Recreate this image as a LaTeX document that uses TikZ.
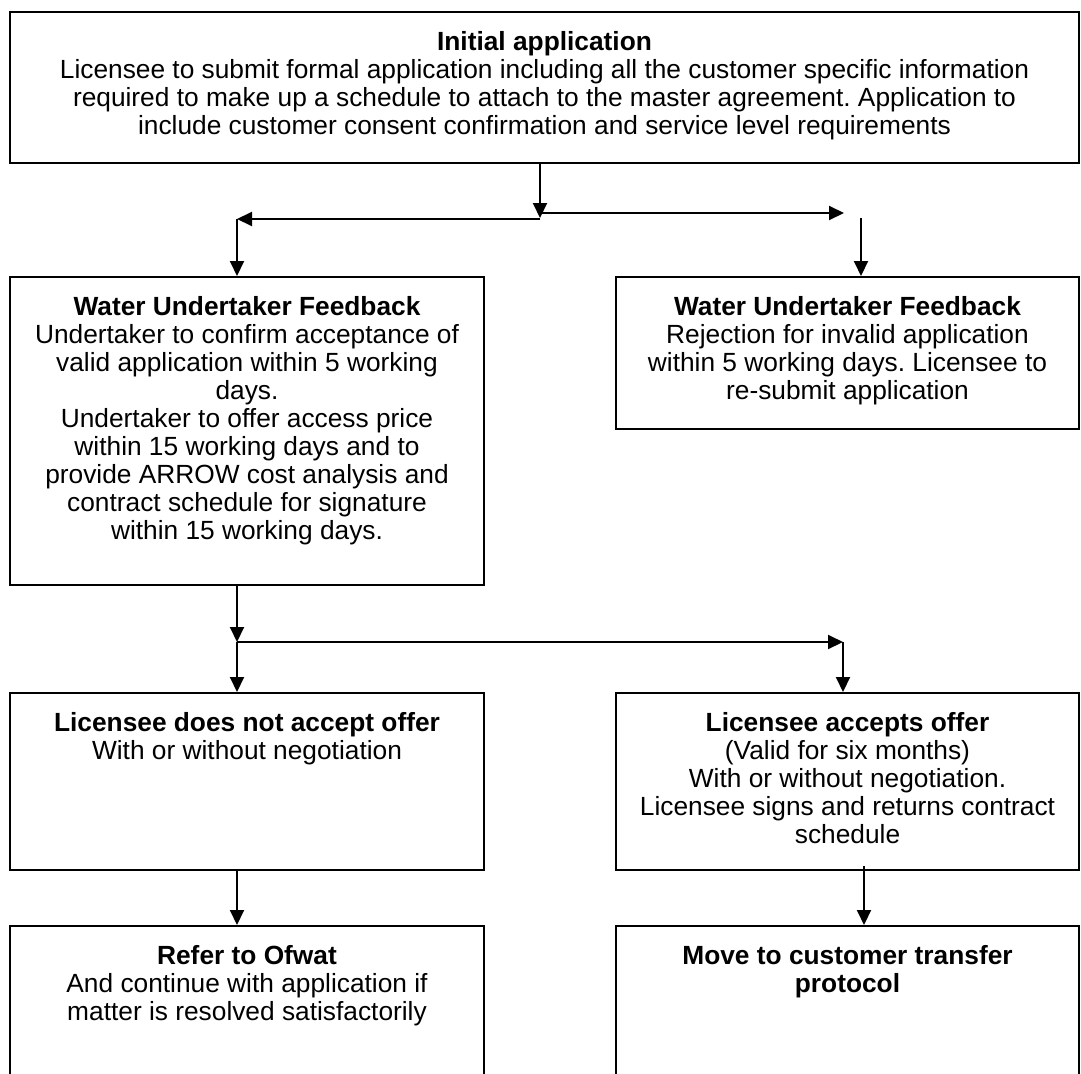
\documentclass[tikz,border=0pt]{standalone}
\usepackage{fontspec}
\setmainfont{Liberation Sans}
\usetikzlibrary{arrows.meta}

\tikzset{
  stage/.style={draw,line width=2pt,inner sep=0pt,anchor=north west,font=\fontsize{26.3}{28}\selectfont},
  flow/.style={line width=2pt,-{Triangle[length=15pt,width=14pt]}}
}
% box text: width, height, lines
\newcommand{\stagetext}[3]{\parbox[c][#2][t]{#1}{\centering\frenchspacing\vspace*{19pt}#3}}

\begin{document}
\begin{tikzpicture}[x=1pt,y=-1pt]
  \clip (0,0) rectangle (1081,1073);
  % boxes
  \node[stage] (apply) at (9,11) {\stagetext{1069pt}{151pt}{\textbf{Initial application}\\
    Licensee to submit formal application including all the customer specific information\\
    required to make up a schedule to attach to the master agreement. Application to\\
    include customer consent confirmation and service level requirements}};
  \node[stage] (fbok) at (9,276) {\stagetext{474pt}{308pt}{\textbf{Water Undertaker Feedback}\\
    Undertaker to confirm acceptance of\\ valid application within 5 working\\ days.\\
    Undertaker to offer access price\\ within 15 working days and to\\
    provide ARROW cost analysis and\\ contract schedule for signature\\ within 15 working days.}};
  \node[stage] (fbreject) at (615,276) {\stagetext{463pt}{152pt}{\textbf{Water Undertaker Feedback}\\
    Rejection for invalid application\\ within 5 working days. Licensee to\\ re-submit application}};
  \node[stage] (decline) at (9,692) {\stagetext{474pt}{177pt}{\textbf{Licensee does not accept offer}\\
    With or without negotiation}};
  \node[stage] (accept) at (615,692) {\stagetext{463pt}{177pt}{\textbf{Licensee accepts offer}\\
    (Valid for six months)\\ With or without negotiation.\\ Licensee signs and returns contract\\ schedule}};
  \node[stage] (ofwat) at (9,925) {\stagetext{474pt}{175pt}{\textbf{Refer to Ofwat}\\
    And continue with application if\\ matter is resolved satisfactorily}};
  \node[stage] (transfer) at (615,925) {\stagetext{463pt}{175pt}{\textbf{Move to customer transfer\\ protocol}}};

  % connectors
  \coordinate (hub1) at (540,218);
  \coordinate (hubL) at (237,219);
  \coordinate (hubR) at (844,213);
  \coordinate (dropR) at (861,218);
  \draw[flow] (apply.south -| hub1) -- (hub1);
  \draw[flow] (hub1 |- hubL) -- (hubL);
  \draw[flow] (hubL) -- (fbok.north -| hubL);
  \draw[flow] (hub1 |- hubR) -- (hubR);
  \draw[flow] (dropR) -- (fbreject.north -| dropR);

  \coordinate (hub2) at (237,642);
  \coordinate (hub2R) at (843,642);
  \draw[flow] (fbok.south -| hub2) -- (hub2);
  \draw[flow] (hub2) -- (hub2R);
  \draw[flow] (hub2R) -- (accept.north -| hub2R);
  \draw[flow] (hub2) -- (decline.north -| hub2);

  \coordinate (dropL) at (237,869);
  \coordinate (dropA) at (864,866);
  \draw[flow] (dropL) -- (ofwat.north -| dropL);
  \draw[flow] (dropA) -- (transfer.north -| dropA);
\end{tikzpicture}
\end{document}
